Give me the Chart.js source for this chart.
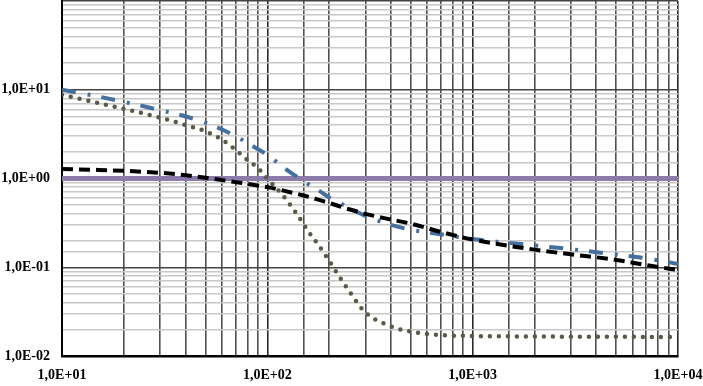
<!DOCTYPE html>
<html>
<head>
<meta charset="utf-8">
<script src="https://cdn.jsdelivr.net/npm/chart.js@4/dist/chart.umd.min.js"></script>
<style>
  html, body { margin: 0; padding: 0; background: #fff; }
  #wrap { width: 703px; height: 386px; }
</style>
</head>
<body>
<div id="wrap"><canvas id="logChart" width="703" height="386"></canvas></div>
<script>
// x positions shared by all curves (log axis, 10 .. 10000)
const xValues = [10, 15, 20, 30, 40, 50, 60, 70, 80, 90, 100, 120, 140, 160, 180, 200,
                 250, 300, 400, 500, 700, 1000, 2000, 3000, 5000, 7000, 10000];

// blue dash-dot curve
const blueValues = [10, 8.4, 7.3, 5.9, 5.0, 4.25, 3.57, 3.0, 2.52, 2.14, 1.85, 1.33, 1.04, 0.85,
                    0.72, 0.61, 0.47, 0.38, 0.30, 0.265, 0.235, 0.208, 0.176, 0.16, 0.139, 0.126, 0.109];

// black dashed curve
const blackValues = [1.28, 1.25, 1.22, 1.16, 1.09, 1.02, 0.96, 0.91, 0.87, 0.83, 0.8, 0.73, 0.67, 0.62,
                     0.57, 0.53, 0.45, 0.40, 0.345, 0.31, 0.25, 0.205, 0.158, 0.14, 0.121, 0.106, 0.093];

// dotted curve
const dottedValues = [8.8, 7.1, 6.1, 4.85, 4.0, 3.4, 2.75, 2.1, 1.62, 1.31, 1.0, 0.63, 0.39, 0.245,
                      0.17, 0.118, 0.054, 0.031, 0.0216, 0.0188, 0.0172, 0.0168, 0.0166, 0.0165,
                      0.0165, 0.0164, 0.0163];

// flat reference line at 1
const refValues = xValues.map(() => 1);

const yMin = 0.01;
const yMax = 100;

function isPow10(v) {
    const l = Math.log10(v);
    return Math.abs(l - Math.round(l)) < 1e-9;
}

function sciLabel(v) {
    const e = Math.round(Math.log10(v));
    const sign = e < 0 ? '-' : '+';
    return '1,0E' + sign + String(Math.abs(e)).padStart(2, '0');
}

function toPoints(values) {
    return values.map((v, i) => ({ x: xValues[i], y: v }));
}

// pin the axis sizes so the plot area sits where it does in the picture
function noPadding(scale) {
    scale.paddingTop = 0;
    scale.paddingBottom = 0;
    scale.paddingLeft = 0;
    scale.paddingRight = 0;
}

const labelFont = { family: '"Liberation Serif", "Times New Roman", serif', size: 14, weight: 'bold' };

const ctx = document.getElementById('logChart').getContext('2d');
new Chart(ctx, {
    type: 'line',
    data: {
        datasets: [
            {
                data: toPoints(blackValues),
                borderColor: '#000000',
                borderWidth: 4,
                borderDash: [11, 6],
                borderCapStyle: 'butt',
                pointRadius: 0,
                cubicInterpolationMode: 'monotone'
            },
            {
                data: toPoints(blueValues),
                borderColor: '#44709f',
                borderWidth: 4,
                borderDash: [14, 12, 3, 11],
                borderCapStyle: 'butt',
                pointRadius: 0,
                cubicInterpolationMode: 'monotone'
            },
            {
                data: toPoints(dottedValues),
                borderColor: '#5a5a48',
                borderWidth: 4.5,
                borderDash: [0, 9],
                borderCapStyle: 'round',
                pointRadius: 0,
                cubicInterpolationMode: 'monotone'
            },
            {
                data: toPoints(refValues),
                borderColor: '#8b7bab',
                borderWidth: 5,
                pointRadius: 0
            }
        ]
    },
    options: {
        responsive: false,
        animation: false,
        layout: { padding: { top: 1, right: 25, bottom: 0, left: 0 } },
        plugins: {
            legend: { display: false },
            tooltip: { enabled: false }
        },
        scales: {
            x: {
                type: 'logarithmic',
                min: 10,
                max: 10000,
                afterFit: s => { s.height = 30; noPadding(s); },
                border: { display: true, color: '#000', width: 2.5 },
                grid: {
                    drawTicks: false,
                    color: c => (c.tick && isPow10(c.tick.value)) ? '#2a2a2a' : '#505050',
                    lineWidth: 1.6
                },
                ticks: {
                    autoSkip: false,
                    maxRotation: 0,
                    padding: 11,
                    color: '#000',
                    font: labelFont,
                    callback: v => isPow10(v) ? sciLabel(v) : ''
                }
            },
            y: {
                type: 'logarithmic',
                min: yMin,
                max: yMax,
                afterFit: s => { s.width = 62; noPadding(s); },
                border: { display: true, color: '#000', width: 2 },
                grid: {
                    drawTicks: false,
                    color: c => (c.tick && isPow10(c.tick.value)) ? '#444' : '#c8c8c8',
                    lineWidth: 1.5
                },
                ticks: {
                    autoSkip: false,
                    padding: 12,
                    color: '#000',
                    font: labelFont,
                    callback: v => (isPow10(v) && v < yMax) ? sciLabel(v) : ''
                }
            }
        }
    }
});
</script>
</body>
</html>
